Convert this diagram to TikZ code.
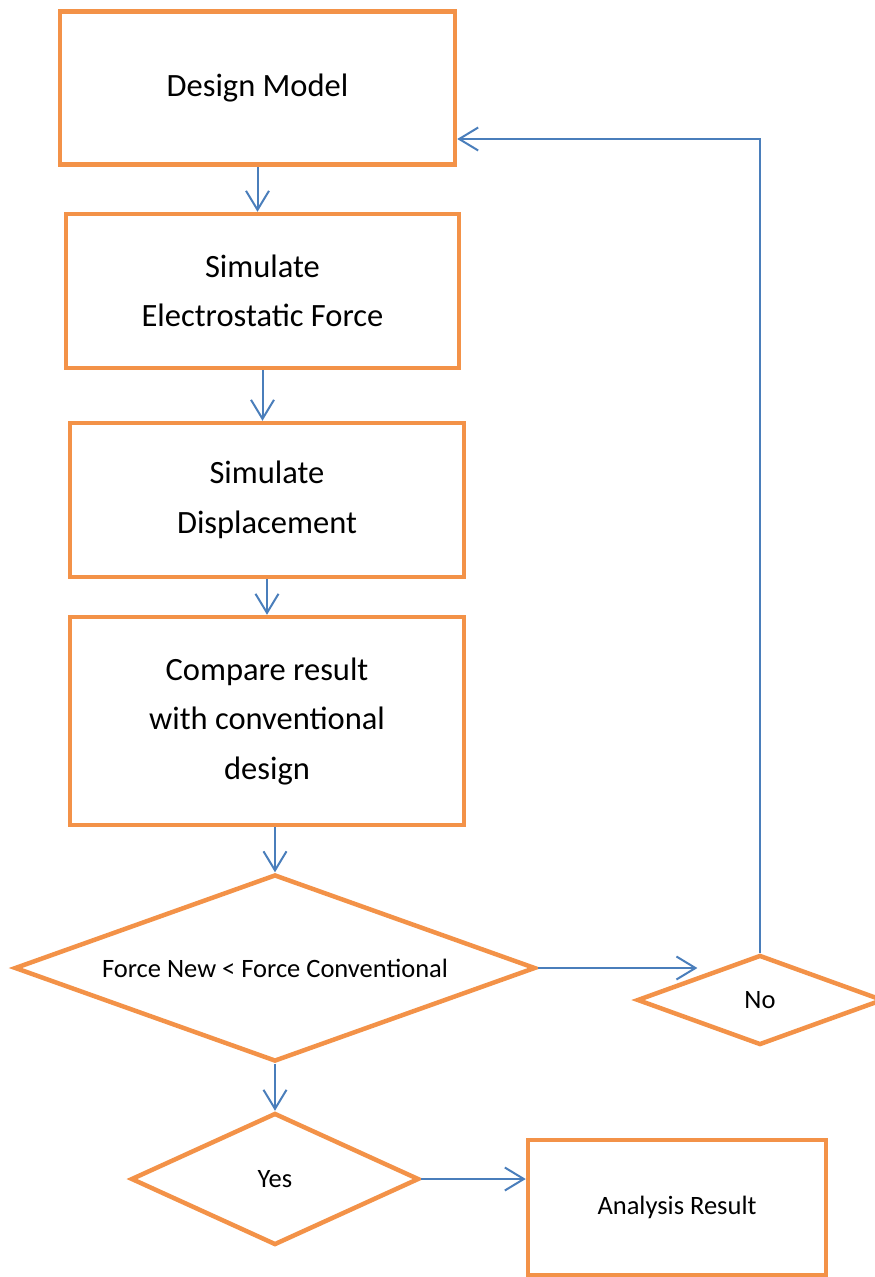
\documentclass[tikz,border=0pt]{standalone}
\usepackage{fontspec}
\setmainfont{Carlito}
\usetikzlibrary{shapes.geometric,arrows.meta}
\definecolor{boxorange}{HTML}{F39248}
\definecolor{lineblue}{HTML}{4A7EBB}

\begin{document}
\begin{tikzpicture}[x=1pt,y=-1pt,>={Straight Barb[length=19pt,width=23pt]},
                    box node/.style={rectangle,draw=boxorange,line width=4.5pt,fill=white,align=center,
                                     font=\fontsize{32.5}{49.5}\selectfont},
                    cond node/.style={diamond,draw=boxorange,line width=4.5pt,fill=white,inner sep=0pt,
                                      font=\fontsize{26.5}{32}\selectfont},
                    link/.style={->,draw=lineblue,line width=2pt}]
        \clip (0,0) rectangle (875,1277);
  \node[box node,minimum width=395,minimum height=153] (1) at (257.5,88) {Design Model};
  \node[box node,minimum width=393,minimum height=154] (2) at (262.5,291) {Simulate\\Electrostatic Force};
  \node[box node,minimum width=394,minimum height=154] (3) at (267,500) {Simulate\\Displacement};
  \node[box node,minimum width=394,minimum height=208] (4) at (267,721) {Compare result\\with conventional\\design};
  \node[cond node,aspect=2.79,minimum width=521,minimum height=187] (5) at (275,968) {Force New < Force Conventional};
  \node[cond node,aspect=2.18,minimum width=288,minimum height=132] (6) at (275,1179) {Yes};
  \node[box node,minimum width=298,minimum height=135,font=\fontsize{26.5}{32}\selectfont] (7) at (677,1207.5) {Analysis Result};
  \node[cond node,aspect=2.73,minimum width=246,minimum height=90] (8) at (760,1000) {No};

  \path[every edge/.style={link}]
    (1.south) edge (1.south |- 2.north)
    (2.south) edge (2.south |- 3.north)
    (3.south) edge (3.south |- 4.north)
    (4.south -| 5.north) edge (5.north)
    (5.east) edge (5.east -| 8.north west)
    (5.south) edge (6.north)
    (6.east) edge (6.east -| 7.west);
  \draw[link] (8.north) |- ([yshift=-51pt]1.east);
\end{tikzpicture}
\end{document}
